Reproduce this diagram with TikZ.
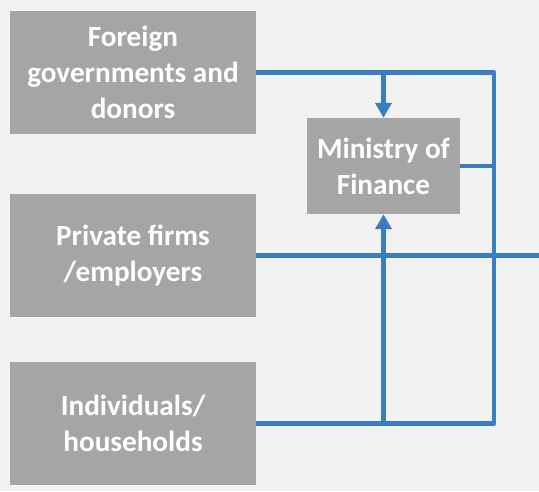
\documentclass[tikz,border=0pt]{standalone}
\usepackage{fontspec}
\setmainfont{Carlito}
\usetikzlibrary{arrows.meta}
\definecolor{bg}{HTML}{F2F2F2}
\definecolor{boxgray}{HTML}{A5A5A5}
\definecolor{flow}{HTML}{3A7DC1}
\begin{document}
\begin{tikzpicture}[x=1pt,y=-1pt,
  srcbox/.style={fill=boxgray,draw=none,minimum width=246pt,minimum height=123pt,inner sep=0pt,
    font=\fontsize{29.2}{36}\selectfont\bfseries,text=white,align=center},
  mofbox/.style={fill=boxgray,draw=none,minimum width=153pt,minimum height=96pt,inner sep=0pt,
    font=\fontsize{29.2}{36}\selectfont\bfseries,text=white,align=center},
  flowline/.style={draw=flow,line width=4.6pt},
  flowarrow/.style={flowline,-{Triangle[length=15pt,width=16pt]}}]
\fill[bg] (0,0) rectangle (539,491);
\useasboundingbox (0,0) rectangle (539,491);
\node[srcbox] (fg) at (133,72.5) {Foreign\\governments and\\donors};
\node[srcbox] (pf) at (133,255.5) {Private firms\\/employers};
\node[srcbox] (ih) at (133,423.5) {Individuals/\\households};
\node[mofbox] (mof) at (383.5,166) {Ministry of\\Finance};
\coordinate (tr) at (494,72.5);
\coordinate (br) at (494,423.5);
\coordinate (mr) at (494,166);
\coordinate (tm) at (383.5,72.5);
\coordinate (bm) at (383.5,423.5);
\coordinate (pr) at (539,255.5);
\draw[flowline,line join=round] (fg.east) -- (tr) -- (br) -- (ih.east);
\draw[flowline] (pf.east) -- (pr);
\draw[flowline] (mof.east) -- (mr);
\draw[flowarrow] (tm) -- (mof.north);
\draw[flowarrow] (bm) -- (mof.south);
\end{tikzpicture}
\end{document}
